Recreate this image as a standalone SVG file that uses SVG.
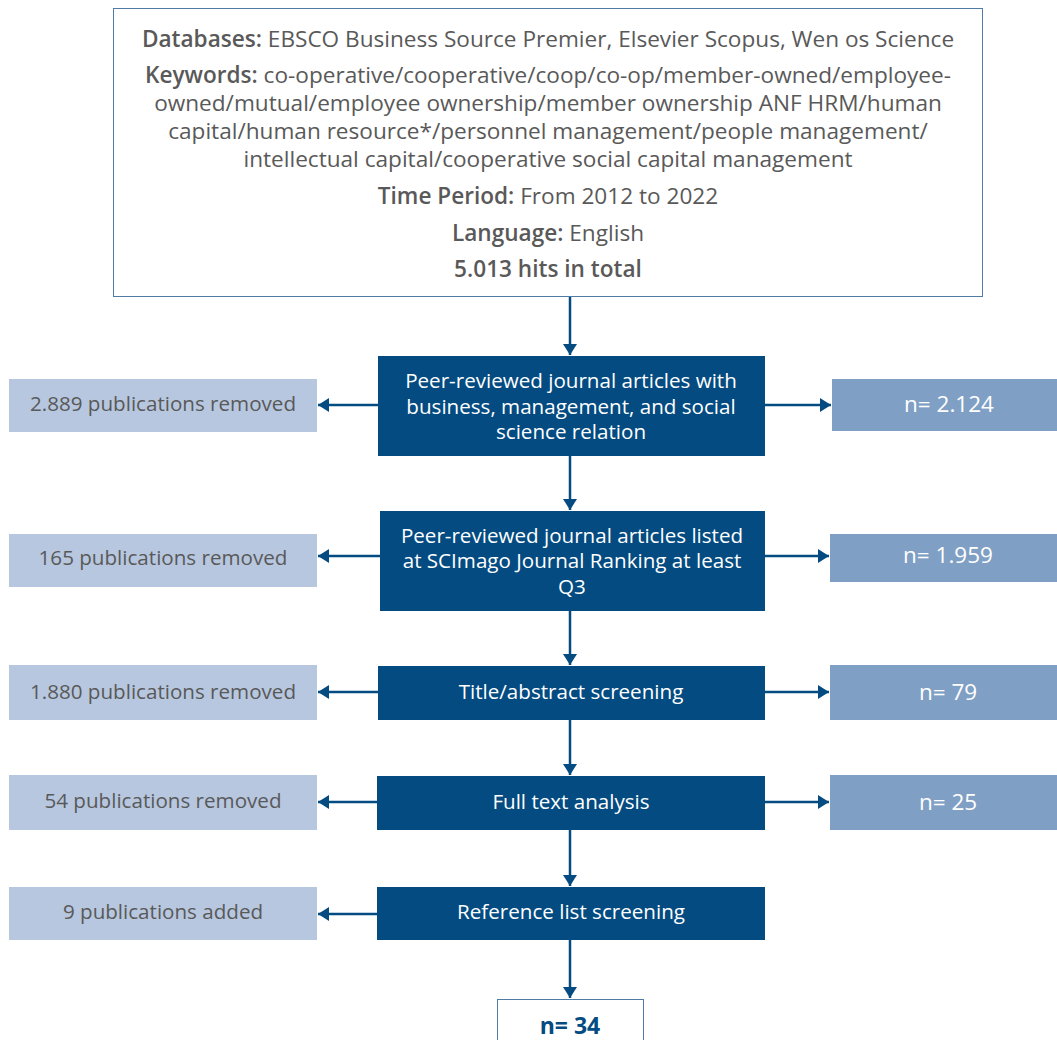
<svg xmlns="http://www.w3.org/2000/svg" width="1057" height="1040" viewBox="0 0 1057 1040">
<style>
text{font-family:"Open Sans","Noto Sans","Liberation Sans",sans-serif;text-anchor:middle}
.top{font-size:22.6px;fill:#595959}
.b{font-weight:600}
.main{fill:#034b81}
.mt{font-size:20.6px;fill:#ffffff}
.lb{fill:#b7c7df}
.lt{font-size:20.6px;fill:#595959}
.rb{fill:#809fc4}
.rt{font-size:22.5px;fill:#ffffff}
.conn{stroke:#034b81;stroke-width:2.5;fill:none}
</style>
<defs>
<marker id="ah" markerWidth="11" markerHeight="14" refX="11" refY="7" orient="auto" markerUnits="userSpaceOnUse">
<path d="M0,0 L11,7 L0,14 Z" fill="#034b81"/>
</marker>
</defs>
<rect width="1057" height="1040" fill="#ffffff"/>
<g id="connectors">
<line class="conn" x1="570" y1="297" x2="570" y2="355" marker-end="url(#ah)"/>
<line class="conn" x1="570" y1="456" x2="570" y2="510" marker-end="url(#ah)"/>
<line class="conn" x1="570" y1="611" x2="570" y2="665" marker-end="url(#ah)"/>
<line class="conn" x1="570" y1="720" x2="570" y2="775" marker-end="url(#ah)"/>
<line class="conn" x1="570" y1="830" x2="570" y2="886" marker-end="url(#ah)"/>
<line class="conn" x1="570" y1="940" x2="570" y2="998" marker-end="url(#ah)"/>
<line class="conn" x1="378" y1="405" x2="318" y2="405" marker-end="url(#ah)"/>
<line class="conn" x1="765" y1="405" x2="831" y2="405" marker-end="url(#ah)"/>
<line class="conn" x1="380" y1="556" x2="318" y2="556" marker-end="url(#ah)"/>
<line class="conn" x1="765" y1="556" x2="829" y2="556" marker-end="url(#ah)"/>
<line class="conn" x1="378" y1="692" x2="318" y2="692" marker-end="url(#ah)"/>
<line class="conn" x1="765" y1="692" x2="829" y2="692" marker-end="url(#ah)"/>
<line class="conn" x1="377" y1="802" x2="318" y2="802" marker-end="url(#ah)"/>
<line class="conn" x1="765" y1="802" x2="829" y2="802" marker-end="url(#ah)"/>
<line class="conn" x1="377" y1="914" x2="318" y2="914" marker-end="url(#ah)"/>
</g>
<g id="search">
<rect x="113.5" y="8.5" width="869" height="288" fill="#ffffff" stroke="#4f7ba6" stroke-width="1"/>
<text class="top" x="548" y="47"><tspan class="b">Databases:</tspan> EBSCO Business Source Premier, Elsevier Scopus, Wen os Science</text>
<text class="top" x="548" y="83"><tspan class="b">Keywords:</tspan> co-operative/cooperative/coop/co-op/member-owned/employee-</text>
<text class="top" x="548" y="111">owned/mutual/employee ownership/member ownership ANF HRM/human</text>
<text class="top" x="548" y="139">capital/human resource*/personnel management/people management/</text>
<text class="top" x="548" y="167">intellectual capital/cooperative social capital management</text>
<text class="top" x="548" y="204"><tspan class="b">Time Period:</tspan> From 2012 to 2022</text>
<text class="top" x="548" y="241"><tspan class="b">Language:</tspan> English</text>
<text class="top b" x="548" y="277">5.013 hits in total</text>
</g>
<g id="step1">
<rect class="main" x="378" y="356" width="387" height="100"/>
<text class="mt" x="571" y="388">Peer-reviewed journal articles with</text>
<text class="mt" x="571" y="414">business, management, and social</text>
<text class="mt" x="571" y="439">science relation</text>
</g>
<g id="removed1">
<rect class="lb" x="9" y="379" width="308" height="53"/>
<text class="lt" x="163" y="411">2.889 publications removed</text>
</g>
<g id="n1">
<rect class="rb" x="832" y="379" width="225" height="52"/>
<text class="rt" x="949" y="412">n= 2.124</text>
</g>
<g id="step2">
<rect class="main" x="380" y="511" width="385" height="100"/>
<text class="mt" x="572" y="543">Peer-reviewed journal articles listed</text>
<text class="mt" x="572" y="568">at SCImago Journal Ranking at least</text>
<text class="mt" x="572" y="594">Q3</text>
</g>
<g id="removed2">
<rect class="lb" x="9" y="534" width="308" height="53"/>
<text class="lt" x="163" y="565">165 publications removed</text>
</g>
<g id="n2">
<rect class="rb" x="830" y="534" width="227" height="48"/>
<text class="rt" x="948" y="563">n= 1.959</text>
</g>
<g id="step3">
<rect class="main" x="378" y="666" width="387" height="54"/>
<text class="mt" x="571" y="699">Title/abstract screening</text>
</g>
<g id="removed3">
<rect class="lb" x="9" y="665" width="308" height="55"/>
<text class="lt" x="163" y="699">1.880 publications removed</text>
</g>
<g id="n3">
<rect class="rb" x="830" y="665" width="227" height="55"/>
<text class="rt" x="948" y="700">n= 79</text>
</g>
<g id="step4">
<rect class="main" x="377" y="776" width="388" height="54"/>
<text class="mt" x="571" y="809">Full text analysis</text>
</g>
<g id="removed4">
<rect class="lb" x="9" y="775" width="308" height="55"/>
<text class="lt" x="163" y="808">54 publications removed</text>
</g>
<g id="n4">
<rect class="rb" x="830" y="775" width="227" height="55"/>
<text class="rt" x="948" y="810">n= 25</text>
</g>
<g id="step5">
<rect class="main" x="377" y="887" width="388" height="53"/>
<text class="mt" x="571" y="919">Reference list screening</text>
</g>
<g id="added5">
<rect class="lb" x="9" y="887" width="308" height="53"/>
<text class="lt" x="163" y="919">9 publications added</text>
</g>
<g id="final">
<rect x="497.5" y="999.5" width="146" height="50" fill="#ffffff" stroke="#4f7ba6" stroke-width="1"/>
<text x="570" y="1034" style="font-size:23px;font-weight:700;fill:#034b81">n= 34</text>
</g>
</svg>
